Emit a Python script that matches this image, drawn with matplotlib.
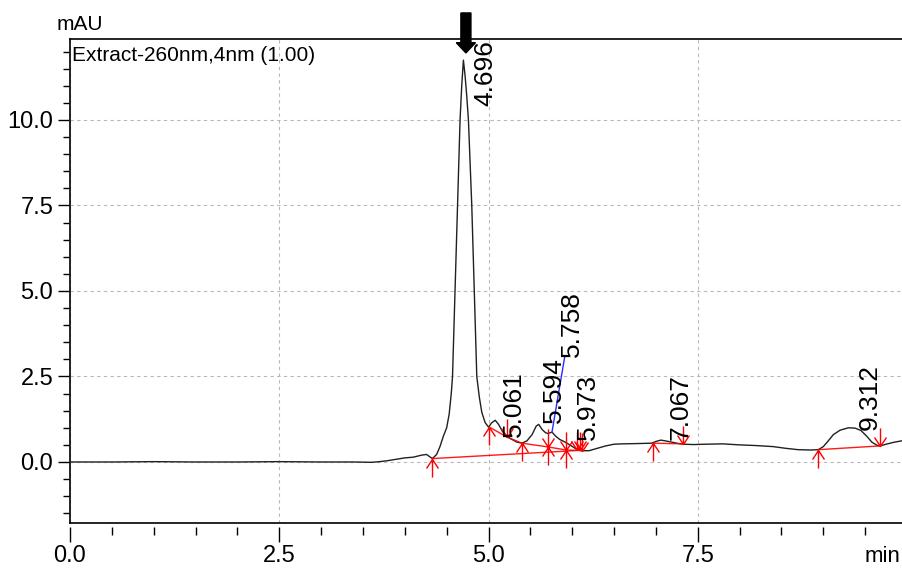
import numpy as np
import matplotlib
matplotlib.use("Agg")
import matplotlib.pyplot as plt
from matplotlib.path import Path
from matplotlib.ticker import MultipleLocator, FixedLocator, FixedFormatter
from matplotlib.patches import FancyArrow

plt.rcParams['font.family'] = ['Liberation Sans', 'DejaVu Sans']

# ---- chromatogram trace (retention time in min, absorbance in mAU) ----
time_min = [0.00, 0.50, 1.00, 1.50, 2.00, 2.50, 3.00, 3.40, 3.60, 3.70, 3.80,
            3.90, 4.00, 4.10, 4.20, 4.26, 4.30, 4.33, 4.38, 4.42, 4.46, 4.50,
            4.53, 4.555, 4.57, 4.60, 4.63, 4.66, 4.68, 4.70, 4.72, 4.74, 4.76,
            4.80, 4.83, 4.86, 4.89, 4.92, 4.96, 5.00, 5.04, 5.08, 5.12, 5.17,
            5.22, 5.28, 5.34, 5.40, 5.46, 5.52, 5.57, 5.60, 5.64, 5.68, 5.71,
            5.74, 5.76, 5.80, 5.85, 5.90, 5.93, 5.97, 6.01, 6.06, 6.10, 6.20,
            6.30, 6.40, 6.50, 6.60, 6.80, 6.95, 7.00, 7.06, 7.15, 7.25, 7.32,
            7.45, 7.60, 7.80, 8.00, 8.20, 8.40, 8.55, 8.70, 8.85, 8.94, 9.00,
            9.06, 9.12, 9.20, 9.30, 9.38, 9.45, 9.52, 9.58, 9.64, 9.68, 9.75,
            9.85, 9.94]
absorbance_mau = [0.00, 0.00, 0.01, 0.00, 0.00, 0.01, 0.00, 0.00, -0.01, 0.01, 0.04,
                  0.08, 0.12, 0.14, 0.20, 0.22, 0.15, 0.10, 0.22, 0.45, 0.75, 1.00,
                  1.40, 2.00, 2.50, 5.00, 7.50, 10.00, 11.00, 11.75, 11.30, 10.70, 10.00,
                  7.50, 5.00, 2.50, 1.90, 1.45, 1.15, 1.02, 1.15, 1.22, 1.10, 0.88,
                  0.74, 0.66, 0.58, 0.55, 0.62, 0.80, 1.05, 1.10, 0.95, 0.86, 0.83,
                  0.86, 0.87, 0.76, 0.66, 0.60, 0.56, 0.50, 0.44, 0.36, 0.33, 0.33,
                  0.40, 0.47, 0.52, 0.53, 0.54, 0.55, 0.60, 0.64, 0.60, 0.55, 0.52,
                  0.51, 0.52, 0.53, 0.50, 0.48, 0.45, 0.40, 0.36, 0.35, 0.36, 0.45,
                  0.62, 0.80, 0.93, 1.00, 0.99, 0.92, 0.75, 0.58, 0.49, 0.47, 0.52,
                  0.58, 0.62]

# ---- integration results ----
peak_rt = [4.696, 5.061, 5.594, 5.758, 5.973, 7.067, 9.312]
peak_labels = ["4.696", "5.061", "5.594", "5.758", "5.973", "7.067", "9.312"]

start_t = [4.33, 5.01, 5.40, 6.97, 8.94]
start_y = [0.10, 1.02, 0.55, 0.55, 0.36]
end_t = [5.22, 6.06, 6.09, 6.12, 7.32, 9.68]
end_y = [0.73, 0.36, 0.34, 0.33, 0.53, 0.47]
split_t = [5.71, 5.93]
split_y = [0.44, 0.35]

baseline_t0 = [4.33, 5.01, 5.22, 5.40, 5.71, 5.93, 6.97, 8.94]
baseline_y0 = [0.10, 1.02, 0.73, 0.55, 0.44, 0.35, 0.55, 0.36]
baseline_t1 = [6.09, 5.22, 5.40, 5.71, 5.93, 6.09, 7.32, 9.68]
baseline_y1 = [0.34, 0.73, 0.55, 0.44, 0.35, 0.34, 0.53, 0.47]

x_ticks = [0.0, 2.5, 5.0, 7.5]
x_tick_labels = ["0.0", "2.5", "5.0", "7.5"]
y_ticks = [0.0, 2.5, 5.0, 7.5, 10.0]
y_tick_labels = ["0.0", "2.5", "5.0", "7.5", "10.0"]

# label anchor (centre of the rotated text, bottom of the text) in data units
label_x = [4.96, 5.30, 5.78, 6.00, 6.19, 7.29, 9.55]
label_y = [10.40, 0.73, 1.14, 3.07, 0.64, 0.64, 0.94]

W, H = 902, 569
fig = plt.figure(figsize=(W / 100, H / 100), dpi=100)
ax_l, ax_r, ax_t, ax_b = 70, 902, 39, 523
ax = fig.add_axes([ax_l / W, 1 - ax_b / H, (ax_r - ax_l) / W, (ax_b - ax_t) / H])
ax.set_xlim(0, 9.94)
ax.set_ylim(-1.784, 12.368)

# ticks and grid
ax.xaxis.set_major_locator(FixedLocator(x_ticks))
ax.xaxis.set_major_formatter(FixedFormatter(x_tick_labels))
ax.yaxis.set_major_locator(FixedLocator(y_ticks))
ax.yaxis.set_major_formatter(FixedFormatter(y_tick_labels))
ax.xaxis.set_minor_locator(MultipleLocator(0.5))
ax.yaxis.set_minor_locator(MultipleLocator(0.5))
ax.grid(True, which='major', linestyle=(0, (3, 3)), color='#b8b8b8', linewidth=0.8)
ax.set_axisbelow(True)

# spines: ticks sit a little away from the axis lines
ax.spines['right'].set_visible(False)
ax.spines['top'].set_linewidth(1.2)
ax.spines['bottom'].set_position(('outward', 3))
ax.spines['bottom'].set_visible(False)
ax.spines['left'].set_position(('outward', 1))
ax.spines['left'].set_visible(False)
ax.plot([0, 1], [0, 0], transform=ax.transAxes, color='black', lw=1.2, clip_on=False)
ax.plot([0, 0], [0, 1], transform=ax.transAxes, color='black', lw=1.2, clip_on=False)

ax.tick_params(axis='x', which='major', length=11, width=1, pad=2, labelsize=17)
ax.tick_params(axis='x', which='minor', length=6, width=1)
ax.tick_params(axis='y', which='major', length=8, width=1, pad=3, labelsize=17)
ax.tick_params(axis='y', which='minor', length=4, width=1)

# trace
ax.plot(time_min, absorbance_mau, color='#202020', lw=1.0, zorder=3)

# baselines
for t0, y0, t1, y1 in zip(baseline_t0, baseline_y0, baseline_t1, baseline_y1):
    ax.plot([t0, t1], [y0, y1], color='red', lw=1.0, zorder=4, alpha=0.9)

# integration event markers
up_path = Path([(0, 0), (0, -1), (-0.33, -0.5), (0, 0), (0.33, -0.5)],
               [Path.MOVETO, Path.LINETO, Path.MOVETO, Path.LINETO, Path.LINETO])
down_path = Path([(0, 0), (0, 1), (-0.33, 0.5), (0, 0), (0.33, 0.5)],
                 [Path.MOVETO, Path.LINETO, Path.MOVETO, Path.LINETO, Path.LINETO])
split_path = Path([(0, 1), (0, -1), (-0.33, 0.5), (0, 0), (0.33, 0.5),
                   (-0.33, -0.5), (0, 0), (0.33, -0.5)],
                  [Path.MOVETO, Path.LINETO, Path.MOVETO, Path.LINETO, Path.LINETO,
                   Path.MOVETO, Path.LINETO, Path.LINETO])
mk = dict(linestyle='none', markerfacecolor='none', markeredgecolor='red',
          markeredgewidth=1.0, zorder=5, clip_on=False)
ax.plot(start_t, start_y, marker=up_path, markersize=26, **mk)
ax.plot(end_t, end_y, marker=down_path, markersize=26, **mk)
ax.plot(split_t, split_y, marker=split_path, markersize=26, **mk)

# leader from the 5.758 apex to its label
apex = np.interp(peak_rt[3], time_min, absorbance_mau)
ax.plot([peak_rt[3], label_x[3] - 0.09], [apex, label_y[3]], color='#2a2aff', lw=1.0, zorder=4)

# retention time labels
for txt, lx, ly in zip(peak_labels, label_x, label_y):
    ax.text(lx, ly, txt, rotation=90, ha='center', va='bottom', fontsize=19,
            color='black', zorder=6, clip_on=False)

# marker arrow above the main peak
ax.add_patch(FancyArrow(4.73, 13.13, 0, -13.13 + 11.96, width=0.12, head_width=0.23,
                        head_length=0.30, length_includes_head=True,
                        color='black', clip_on=False, zorder=7))

ax.text(0.003, 0.965, "Extract-260nm,4nm (1.00)", transform=ax.transAxes,
        ha='left', va='center', fontsize=15)
fig.text(80 / W, 1 - 24 / H, "mAU", ha='center', va='center', fontsize=15)
fig.text(900 / W, 1 - 556 / H, "min", ha='right', va='center', fontsize=16)

fig.savefig("out.png", dpi=100)
